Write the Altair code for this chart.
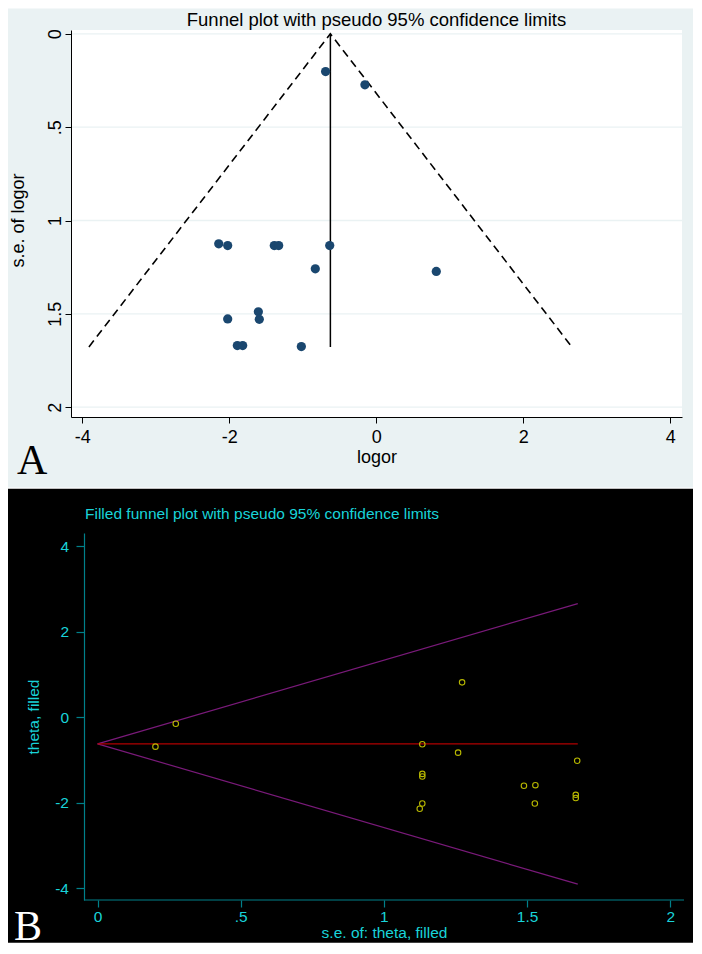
import altair as alt
import pandas as pd

# ---------------- data ----------------
logor = [-0.690, -0.155, -2.144, -2.022, -1.388, -1.328, -0.634, -0.830,
         0.816, -1.605, -1.592, -2.022, -1.891, -1.818, -1.020]
se = [0.202, 0.273, 1.125, 1.134, 1.134, 1.134, 1.134, 1.259,
      1.273, 1.489, 1.529, 1.527, 1.670, 1.670, 1.675]

pooled = -0.625          # pooled estimate (vertical / horizontal line)
se_max = 1.677           # bottom of the funnel
limit_lower = -3.91      # pseudo 95% limit at se_max
limit_upper = 2.66

title_a = "Funnel plot with pseudo 95% confidence limits"
title_b = "Filled funnel plot with pseudo 95% confidence limits"

xA_ticks = [-4, -2, 0, 2, 4]
xA_labels = ["-4", "-2", "0", "2", "4"]
yA_ticks = [0, 0.5, 1, 1.5, 2]
yA_labels = ["0", ".5", "1", "1.5", "2"]
xB_ticks = [0, 0.5, 1, 1.5, 2]
xB_labels = ["0", ".5", "1", "1.5", "2"]
yB_ticks = [-4, -2, 0, 2, 4]
yB_labels = ["-4", "-2", "0", "2", "4"]

# ---------------- styling ----------------
SANS = "Liberation Sans"
SERIF = "Liberation Serif"
A_BG = "#eaf2f3"
NAVY = "#1a476f"
CYAN = "#19d3d9"
TEAL = "#00808a"
RED = "#b00000"
PURPLE = "#7a1a7a"
YELLOW = "#b8b800"

WA, HA = 611, 387
WB, HB = 613, 367
B_SHIFT = 13   # B's y axis sits 13px right of the shared left edge


def label_expr(values, labels):
    expr = ""
    for v, l in zip(values, labels):
        expr += f"datum.value == {v} ? '{l}' : "
    return expr + "''"


one = pd.DataFrame({"k": [0]})
pts = pd.DataFrame({"logor": logor, "se": se})

# ================= Panel A =================
xA_scale = alt.Scale(domain=[-4.154, 4.159], nice=False, zero=False)
yA_scale = alt.Scale(domain=[-0.0204, 2.0525], reverse=True, nice=False, zero=False)

axis_xA = alt.Axis(values=xA_ticks, labelExpr=label_expr(xA_ticks, xA_labels),
                   title="logor", grid=False, domainColor="black", domainWidth=1,
                   tickColor="black", tickSize=6, tickWidth=1,
                   labelFont=SANS, labelFontSize=18, labelColor="black",
                   labelPadding=5.5, labelFlush=False, labelOverlap=False,
                   titleFont=SANS, titleFontSize=18, titleColor="black",
                   titleFontWeight="normal", titleY=45.5, titleBaseline="alphabetic",
                   zindex=1)
axis_yA = alt.Axis(values=yA_ticks, labelExpr=label_expr(yA_ticks, yA_labels),
                   title="s.e. of logor", grid=False, domainColor="black",
                   domainWidth=1, tickColor="black", tickSize=6, tickWidth=1,
                   labelFont=SANS, labelFontSize=18, labelColor="black",
                   labelAngle=270, labelAlign="center", labelBaseline="alphabetic",
                   labelPadding=5, labelFlush=False, labelOverlap=False,
                   titleFont=SANS, titleFontSize=18, titleColor="black",
                   titleFontWeight="normal", titleAngle=270, titleX=-48,
                   titleY=190, titleAlign="center",
                   titleBaseline="alphabetic", zindex=1)


def XA(field):
    return alt.X(field, type="quantitative", scale=xA_scale, axis=axis_xA)


def YA(field):
    return alt.Y(field, type="quantitative", scale=yA_scale, axis=axis_yA)


bgA = alt.Chart(one).mark_rect(color=A_BG).encode(
    x=alt.value(-63), x2=alt.value(622), y=alt.value(-21.5), y2=alt.value(457.5))
plotA = alt.Chart(one).mark_rect(color="white").encode(
    x=alt.value(0), x2=alt.value(WA), y=alt.value(0), y2=alt.value(HA))
gridA = alt.Chart(pd.DataFrame({"tick": yA_ticks})).mark_rule(
    color=A_BG, strokeWidth=1.3).encode(y=YA("tick"))

funnelA = pd.DataFrame({"x": [limit_lower, pooled, limit_upper],
                        "y": [se_max, 0, se_max]})
dashA = alt.Chart(funnelA).mark_line(color="black", strokeWidth=1.6,
                                     strokeDash=[8, 5]).encode(x=XA("x"), y=YA("y"))
vlineA = alt.Chart(pd.DataFrame({"x": [pooled], "y": [0], "y2": [se_max]})).mark_rule(
    color="black", strokeWidth=1.5).encode(x=XA("x"), y=YA("y"), y2="y2")
ptsA = alt.Chart(pts).mark_circle(size=85, color=NAVY, opacity=1).encode(
    x=XA("logor"), y=YA("se"))
titleA = alt.Chart(one).mark_text(text=title_a, font=SANS, fontSize=18.5,
                                  color="black", align="center",
                                  baseline="alphabetic").encode(
    x=alt.value(WA / 2), y=alt.value(-4.5))
letterA = alt.Chart(one).mark_text(text="A", font=SERIF, fontSize=42, color="black",
                                   align="left", baseline="alphabetic").encode(
    x=alt.value(-54), y=alt.value(443.5))

panelA = alt.layer(bgA, plotA, gridA, dashA, vlineA, ptsA, titleA, letterA).properties(
    width=WA, height=HA)

# ================= Panel B =================
xB_scale = alt.Scale(domain=[-0.0929, 2.048], nice=False, zero=False)
yB_scale = alt.Scale(domain=[-4.281, 4.313], nice=False, zero=False)

axis_xB = alt.Axis(values=xB_ticks, labelExpr=label_expr(xB_ticks, xB_labels),
                   title="s.e. of: theta, filled", grid=False, domain=False,
                   tickColor=TEAL, tickSize=7, tickWidth=1.2,
                   labelFont=SANS, labelFontSize=15.5, labelColor=CYAN,
                   labelPadding=2.5, labelFlush=False, labelOverlap=False,
                   titleFont=SANS, titleFontSize=15.5, titleColor=CYAN,
                   titleFontWeight="normal", titleX=313,
                   titleY=37.5, titleBaseline="alphabetic", zindex=1)
axis_yB = alt.Axis(values=yB_ticks, labelExpr=label_expr(yB_ticks, yB_labels),
                   title="theta, filled", grid=False, domainColor=TEAL,
                   domainWidth=1.2, tickColor=TEAL, tickSize=8, tickWidth=1.2,
                   labelFont=SANS, labelFontSize=15.5, labelColor=CYAN,
                   labelAngle=0, labelAlign="right", labelBaseline="middle",
                   labelPadding=7.5, labelFlush=False, labelOverlap=False,
                   titleFont=SANS, titleFontSize=15.5, titleColor=CYAN,
                   titleFontWeight="normal", titleAngle=270, titleX=-46,
                   titleY=HB / 2, titleAlign="center", titleBaseline="alphabetic",
                   offset=-B_SHIFT, zindex=1)


def XB(field):
    return alt.X(field, type="quantitative", scale=xB_scale, axis=axis_xB)


def YB(field):
    return alt.Y(field, type="quantitative", scale=yB_scale, axis=axis_yB)


bgB = alt.Chart(one).mark_rect(color="black").encode(
    x=alt.value(-63), x2=alt.value(622), y=alt.value(-44.3), y2=alt.value(409.7))
xlineB = alt.Chart(one).mark_rule(color=TEAL, strokeWidth=1.2).encode(
    x=alt.value(B_SHIFT), x2=alt.value(WB), y=alt.value(HB))

funnelB = pd.DataFrame({"se": [0, se_max, 0, se_max],
                        "theta": [pooled, limit_upper, pooled, limit_lower],
                        "side": ["upper", "upper", "lower", "lower"]})
limitsB = alt.Chart(funnelB).mark_line(color=PURPLE, strokeWidth=1.2).encode(
    x=XB("se"), y=YB("theta"), detail="side:N")
hlineB = alt.Chart(pd.DataFrame({"x": [0], "x2": [se_max], "y": [pooled]})).mark_rule(
    color=RED, strokeWidth=1.4).encode(x=XB("x"), x2="x2", y=YB("y"))
ptsB = alt.Chart(pts).mark_point(shape="circle", filled=False, size=30,
                                 strokeWidth=1.1, color=YELLOW, opacity=1).encode(
    x=XB("se"), y=YB("logor"))
titleB = alt.Chart(one).mark_text(text=title_b, font=SANS, fontSize=15.5,
                                  color=CYAN, align="left",
                                  baseline="alphabetic").encode(
    x=alt.value(B_SHIFT + 1), y=alt.value(-14.3))
letterB = alt.Chart(one).mark_text(text="B", font=SERIF, fontSize=42, color="white",
                                   align="left", baseline="alphabetic").encode(
    x=alt.value(-57), y=alt.value(406.7))

panelB = alt.layer(bgB, xlineB, limitsB, hlineB, ptsB, titleB, letterB).properties(
    width=WB, height=HB)

chart = alt.vconcat(panelA, panelB, spacing=0).properties(
    padding=0, background="white"
).configure_view(stroke=None)

chart.save("out.html", embed_options={"renderer": "svg", "actions": False})
